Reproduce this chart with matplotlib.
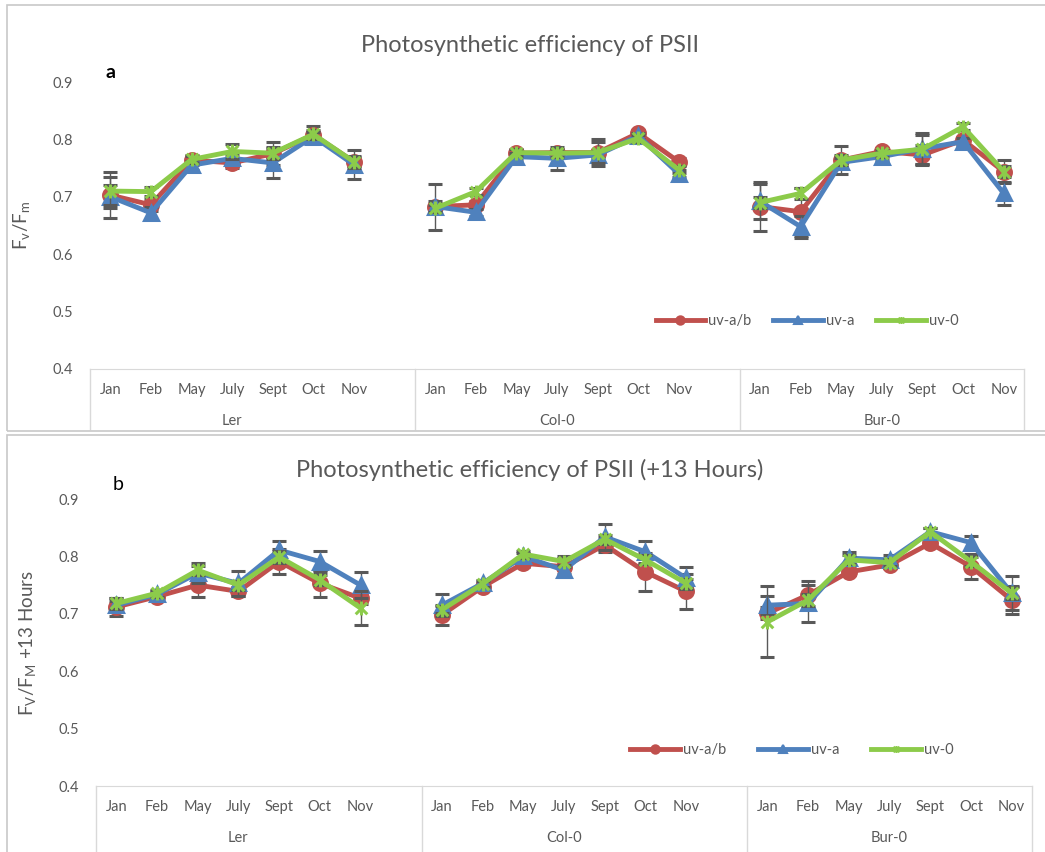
import matplotlib
matplotlib.use("Agg")
import matplotlib.pyplot as plt
import matplotlib.transforms as mtransforms
from matplotlib.patches import Rectangle
from matplotlib.lines import Line2D
from matplotlib.path import Path
import numpy as np

plt.rcParams['font.family'] = ['Lato', 'DejaVu Sans']

months = ["Jan", "Feb", "May", "July", "Sept", "Oct", "Nov"]
lines_ = ["Ler", "Col-0", "Bur-0"]
series = ["uv-a/b", "uv-a", "uv-0"]

# panel a: Fv/Fm, one list per series, Ler | Col-0 | Bur-0
a_uvab = [0.703, 0.686, 0.764, 0.759, 0.775, 0.808, 0.761,
          0.683, 0.686, 0.776, 0.777, 0.777, 0.811, 0.761,
          0.683, 0.674, 0.764, 0.779, 0.773, 0.799, 0.744]
a_uva = [0.700, 0.672, 0.755, 0.767, 0.759, 0.805, 0.756,
         0.683, 0.673, 0.770, 0.767, 0.773, 0.806, 0.740,
         0.692, 0.648, 0.760, 0.770, 0.784, 0.796, 0.706]
a_uv0 = [0.710, 0.709, 0.765, 0.779, 0.776, 0.809, 0.761,
         0.680, 0.709, 0.777, 0.776, 0.777, 0.802, 0.747,
         0.690, 0.706, 0.764, 0.776, 0.783, 0.822, 0.744]
a_err_uvab = [0.040, 0.010, 0.008, 0.008, 0.020, 0.015, 0.008,
              0.040, 0.006, 0.006, 0.006, 0.024, 0.006, 0.006,
              0.043, 0.042, 0.024, 0.006, 0.018, 0.006, 0.020]
a_err_uva = [0.020, 0.010, 0.008, 0.006, 0.026, 0.008, 0.025,
             0.010, 0.006, 0.006, 0.020, 0.006, 0.006, 0.006,
             0.030, 0.019, 0.008, 0.006, 0.027, 0.006, 0.020]
a_err_uv0 = [0.025, 0.008, 0.006, 0.013, 0.010, 0.008, 0.010,
             0.006, 0.006, 0.006, 0.006, 0.018, 0.006, 0.006,
             0.010, 0.010, 0.008, 0.006, 0.025, 0.006, 0.010]

# panel b: Fv/Fm +13 hours
b_uvab = [0.712, 0.730, 0.750, 0.739, 0.791, 0.753, 0.727,
          0.698, 0.747, 0.788, 0.782, 0.820, 0.773, 0.739,
          0.701, 0.733, 0.773, 0.785, 0.823, 0.782, 0.724]
b_uva = [0.715, 0.734, 0.771, 0.753, 0.811, 0.791, 0.750,
         0.715, 0.753, 0.800, 0.776, 0.834, 0.808, 0.762,
         0.715, 0.718, 0.797, 0.794, 0.843, 0.824, 0.736]
b_uv0 = [0.718, 0.736, 0.776, 0.750, 0.799, 0.759, 0.710,
         0.707, 0.752, 0.804, 0.791, 0.830, 0.794, 0.753,
         0.686, 0.724, 0.794, 0.789, 0.843, 0.791, 0.736]
b_err_uvab = [0.015, 0.006, 0.020, 0.008, 0.022, 0.024, 0.010,
              0.018, 0.006, 0.006, 0.018, 0.012, 0.033, 0.031,
              0.010, 0.025, 0.006, 0.006, 0.006, 0.022, 0.024]
b_err_uva = [0.008, 0.006, 0.018, 0.022, 0.016, 0.019, 0.022,
             0.019, 0.006, 0.006, 0.006, 0.022, 0.019, 0.019,
             0.016, 0.032, 0.011, 0.008, 0.006, 0.012, 0.030]
b_err_uv0 = [0.010, 0.006, 0.008, 0.008, 0.010, 0.008, 0.030,
             0.006, 0.006, 0.006, 0.006, 0.008, 0.008, 0.008,
             0.062, 0.010, 0.008, 0.006, 0.006, 0.008, 0.010]

colors = ["#C0504D", "#4F81BD", "#8CCB4A"]
# Excel-style "star": an X with a vertical stroke
star = Path([(-1, -1), (1, 1), (-1, 1), (1, -1), (0, -1.2), (0, 1.2)],
            [Path.MOVETO, Path.LINETO, Path.MOVETO, Path.LINETO, Path.MOVETO, Path.LINETO])
markers = ["o", "^", star]
grey = "#595959"
light = "#D9D9D9"

W, H = 1045, 852
fig = plt.figure(figsize=(W / 100, H / 100), dpi=100)

# chart area frames
fig.add_artist(Rectangle((7 / W, 1 - 431 / H), 1.2, (431 - 5) / H, transform=fig.transFigure,
                         fill=False, ec="#C8C8C8", lw=1.2))
fig.add_artist(Rectangle((7 / W, -0.1), 1.2, 0.1 + (852 - 435) / H, transform=fig.transFigure,
                         fill=False, ec="#C8C8C8", lw=1.2))


def panel(rect, data, errs, title, letter, letter_xy, ylabel, leg_xy, col_sp, title_y, sep_len):
    ax = fig.add_axes(rect)
    nm = len(months)
    for s in range(3):
        vals = np.array(data[s])
        err = np.array(errs[s])
        for g in range(len(lines_)):
            x = g * (nm + 1) + np.arange(nm)
            sl = slice(g * nm, (g + 1) * nm)
            ax.errorbar(x, vals[sl], yerr=err[sl], color=colors[s], lw=3.5,
                        marker=markers[s], ms=10 if s < 2 else 10, mew=2.2,
                        ecolor="#595959", elinewidth=1.0, capsize=5, capthick=1.0,
                        zorder=3 + s)
    total = len(lines_) * (nm + 1) - 1
    ax.set_xlim(-0.5, total - 0.5)
    ax.set_ylim(0.4, 0.9)
    ax.set_yticks(np.arange(0.4, 0.91, 0.1))
    ax.set_yticklabels(["%.1f" % v for v in np.arange(0.4, 0.91, 0.1)])
    xt = [g * (nm + 1) + m for g in range(len(lines_)) for m in range(nm)]
    ax.set_xticks(xt)
    ax.set_xticklabels(months * len(lines_))
    ax.tick_params(axis="both", length=0, colors=grey, labelsize=10.5)
    ax.tick_params(axis="x", pad=10)
    ax.tick_params(axis="y", pad=12)
    for sp in ax.spines.values():
        sp.set_visible(False)
    ax.spines["bottom"].set_visible(True)
    ax.spines["bottom"].set_color(light)
    trans = mtransforms.blended_transform_factory(ax.transData, ax.transAxes)
    for b in [-0.5 + g * (nm + 1) for g in range(len(lines_))] + [total - 0.5]:
        ax.plot([b, b], [0, -sep_len], color=light, lw=1, transform=trans, clip_on=False)
    for g, name in enumerate(lines_):
        ax.text(g * (nm + 1) + (nm - 1) / 2, -0.18, name, transform=trans,
                ha="center", va="center", color=grey, fontsize=10.5)
    ax.set_ylabel(ylabel, fontsize=13.5, color=grey, labelpad=14)
    fig.text(0.507, title_y, title, ha="center", va="center", color=grey, fontsize=17)
    fig.text(letter_xy[0], letter_xy[1], letter[0], fontsize=14, fontweight=letter[1],
             ha="center", va="center", color="black")
    handles = [Line2D([], [], color=colors[s], lw=3.5, marker=markers[s],
                      ms=6 if s < 2 else 5, mew=1.5) for s in range(3)]
    ax.legend(handles, series, loc="center", bbox_to_anchor=leg_xy, bbox_transform=fig.transFigure,
              ncol=3, frameon=False, fontsize=10.5, handlelength=3.4, columnspacing=col_sp,
              handletextpad=0.2, labelcolor=grey)
    return ax


panel([90 / W, 1 - 369 / H, 934 / W, 287 / H],
      [a_uvab, a_uva, a_uv0], [a_err_uvab, a_err_uva, a_err_uv0],
      "Photosynthetic efficiency of PSII", ("a", "bold"), (111 / W, 1 - 73 / H),
      r"F$_\mathregular{v}$/F$_\mathregular{m}$", (807 / W, 1 - 321 / H), 1.5, 1 - 45 / H, 0.21)

panel([96 / W, 1 - 786 / H, 936 / W, 287 / H],
      [b_uvab, b_uva, b_uv0], [b_err_uvab, b_err_uva, b_err_uv0],
      "Photosynthetic efficiency of PSII (+13 Hours)", ("b", "normal"), (118 / W, 1 - 485 / H),
      r"F$_\mathregular{V}$/F$_\mathregular{M}$ +13 Hours", (792 / W, 1 - 750 / H), 2.2, 1 - 470 / H, 0.26)

fig.savefig("out.png", dpi=100)
